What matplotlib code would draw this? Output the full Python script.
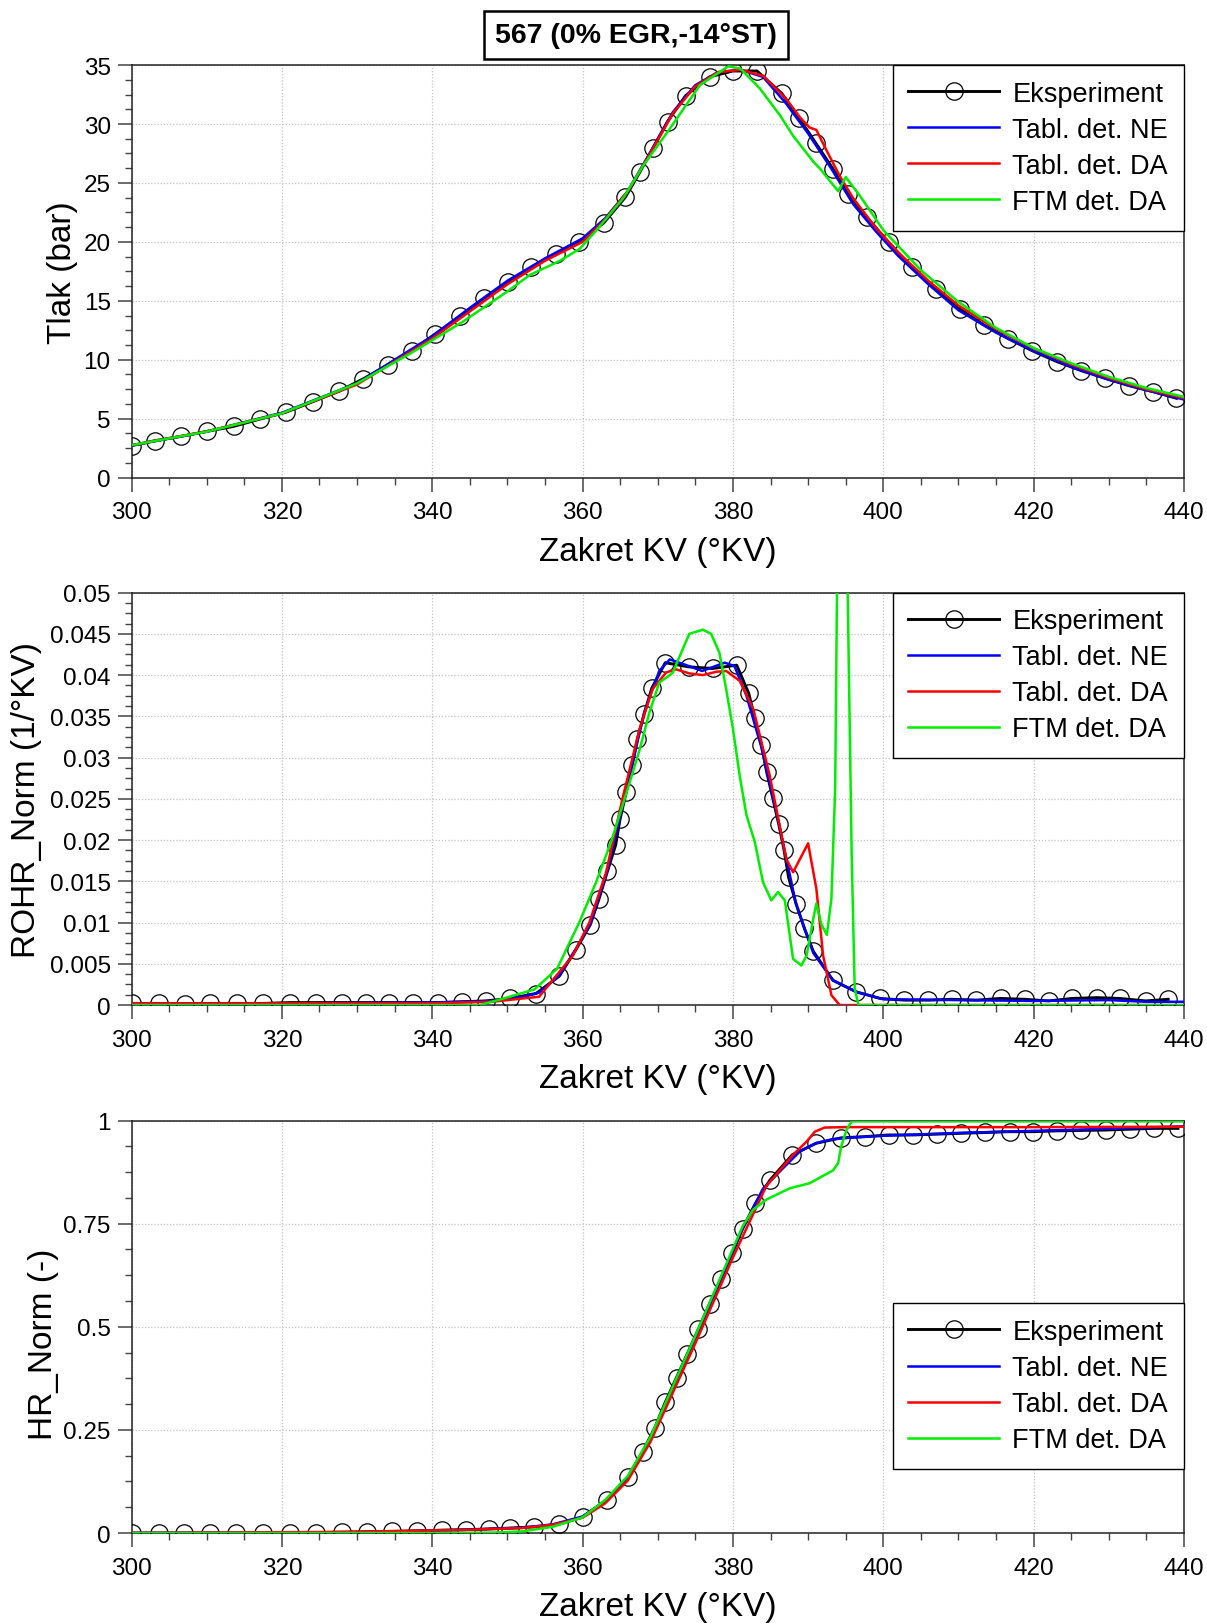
import matplotlib
matplotlib.use("Agg")
import matplotlib.pyplot as plt
from matplotlib.ticker import MultipleLocator, FuncFormatter

plt.rcParams['font.family'] = ['Liberation Sans', 'DejaVu Sans']

# ---------------- DATA ----------------
title = "567 (0% EGR,-14°ST)"
xlabel = "Zakret KV (°KV)"
ylabels = ["Tlak (bar)", "ROHR_Norm (1/°KV)", "HR_Norm (-)"]
series_names = ["Eksperiment", "Tabl. det. NE", "Tabl. det. DA", "FTM det. DA"]

# Panel 1 - pressure
p_exp_x = [300.0, 303.1, 306.6, 310.1, 313.6, 317.1, 320.5, 324.1, 327.6, 330.8, 334.1, 337.3,
           340.4, 343.7, 346.9, 350.1, 353.2, 356.5, 359.5, 362.8, 365.7, 367.6, 369.4, 371.3,
           373.7, 376.9, 380.0, 383.2, 386.5, 388.8, 391.0, 393.3, 395.3, 397.8, 400.7, 403.8,
           407.0, 410.2, 413.4, 416.6, 419.8, 423.1, 426.3, 429.5, 432.7, 435.9, 439.0]
p_exp_y = [2.71, 3.13, 3.5, 3.93, 4.35, 4.97, 5.54, 6.44, 7.33, 8.37, 9.56, 10.77,
           12.19, 13.69, 15.22, 16.63, 17.85, 18.98, 20.0, 21.6, 23.8, 25.9, 28.0, 30.2,
           32.4, 34.0, 34.5, 34.5, 32.6, 30.5, 28.4, 26.2, 24.1, 22.1, 19.97, 17.85,
           16.0, 14.3, 12.95, 11.8, 10.77, 9.84, 9.08, 8.43, 7.8, 7.29, 6.73]
p_ne_x = [300, 310, 320, 330, 340, 345, 350, 355, 360, 363, 366, 369, 372, 375, 378, 381, 384,
          387, 390, 393, 396, 399, 402, 406, 410, 415, 420, 425, 430, 435, 440]
p_ne_y = [2.72, 3.9, 5.5, 8.0, 12.0, 14.4, 16.7, 18.6, 20.3, 22.0, 24.3, 27.6, 31.0, 33.3, 34.4,
          34.6, 34.0, 31.8, 29.2, 26.3, 23.2, 20.9, 18.8, 16.4, 14.2, 12.3, 10.75, 9.4, 8.3, 7.42, 6.62]
p_da_x = [300, 310, 320, 330, 340, 345, 350, 355, 360, 363, 366, 369, 372, 375, 378, 381, 384,
          387, 389, 390.2, 391.1, 392.5, 394.2, 396, 399, 402, 406, 410, 415, 420, 425, 430, 435, 440]
p_da_y = [2.75, 3.92, 5.45, 7.9, 11.8, 14.1, 16.4, 18.4, 20.0, 21.9, 24.3, 27.5, 30.9, 33.2, 34.4,
          34.6, 34.1, 32.2, 30.5, 29.7, 29.5, 27.7, 25.6, 23.7, 21.2, 19.1, 16.7, 14.6, 12.6, 10.95,
          9.6, 8.45, 7.5, 6.75]
p_ftm_x = [300, 310, 320, 330, 337, 344, 350, 353, 357, 359.6, 362, 365.4, 368.1, 371.6, 375.6,
           379.4, 381, 383.6, 386.3, 388, 390.7, 391.6, 394, 395, 396.9, 400, 405, 410, 415, 420,
           425, 430, 435, 440]
p_ftm_y = [2.75, 3.9, 5.45, 8.0, 10.5, 13.2, 15.8, 17.2, 18.4, 19.4, 21.1, 23.7, 26.5, 29.6, 33.3,
           34.9, 34.7, 33.0, 30.7, 29.0, 26.8, 26.2, 24.3, 25.5, 23.9, 21.0, 17.6, 14.9, 12.7, 11.0,
           9.7, 8.55, 7.6, 6.85]

# Panel 2 - ROHR_Norm
r_exp_x = [300.0, 303.6, 307.1, 310.5, 314.0, 317.5, 321.1, 324.5, 328.0, 331.2, 334.3, 337.5,
           340.7, 343.9, 347.1, 350.3, 353.8, 356.9, 359.1, 361.0, 362.2, 363.3, 364.4, 365.0,
           365.8, 366.6, 367.3, 368.2, 369.2, 371.0, 374.1, 377.3, 380.5, 382.1, 382.9, 383.8,
           384.5, 385.3, 386.1, 386.8, 387.4, 388.4, 389.5, 390.7, 393.3, 396.4, 399.6, 402.8,
           406.0, 409.1, 412.4, 415.6, 418.8, 422.0, 425.1, 428.4, 431.5, 434.9, 437.9]
r_exp_y = [0.0002, 0.0002, 0.0001, 0.0002, 0.0002, 0.0002, 0.0003, 0.0003, 0.0003, 0.0003, 0.0003,
           0.0003, 0.0003, 0.0004, 0.0005, 0.0008, 0.0014, 0.0035, 0.0067, 0.0097, 0.0129, 0.0162,
           0.0194, 0.0226, 0.0258, 0.0291, 0.0323, 0.0353, 0.0384, 0.0415, 0.0410, 0.0408, 0.0412,
           0.0378, 0.0348, 0.0315, 0.0282, 0.0251, 0.0219, 0.0188, 0.0155, 0.0123, 0.0093, 0.0065,
           0.0030, 0.0016, 0.0008, 0.0006, 0.0006, 0.0007, 0.0006, 0.0008, 0.0007, 0.0005, 0.0008,
           0.0009, 0.0008, 0.0005, 0.0007]
r_ne_x = [300, 320, 340, 348, 352, 354.2, 356.9, 359.1, 361, 363.3, 365.8, 368.2, 370.2, 371.6,
          373.5, 375.9, 378.9, 380.2, 381.8, 383.8, 386, 388.4, 390.7, 393.3, 396.4, 400, 410, 420,
          430, 435, 440]
r_ne_y = [0.0002, 0.0002, 0.0003, 0.0005, 0.001, 0.0015, 0.0036, 0.0068, 0.0098, 0.0163, 0.0259,
          0.0355, 0.0405, 0.0419, 0.0413, 0.0405, 0.0415, 0.0411, 0.0375, 0.0312, 0.0225, 0.0122,
          0.0063, 0.0030, 0.0016, 0.0007, 0.0006, 0.0005, 0.0006, 0.0004, 0.0004]
r_da_x = [300, 320, 340, 348, 352, 354.2, 358.7, 360.9, 363.1, 365.3, 367.6, 369.3, 371.1, 372.4,
          374.2, 376.0, 377.8, 379.1, 380.9, 382.7, 384.9, 387.1, 388.0, 390.0, 391.1, 392.0, 393.1,
          394.2, 400, 440]
r_da_y = [0.0002, 0.0002, 0.0002, 0.0004, 0.0008, 0.001, 0.006, 0.010, 0.016, 0.025, 0.0335, 0.0383,
          0.0403, 0.0407, 0.0402, 0.0400, 0.0404, 0.0405, 0.0393, 0.0359, 0.0278, 0.0177, 0.0161,
          0.0196, 0.0141, 0.006, 0.0012, 0.0, 0.0, 0.0]
r_ftm_x = [300, 346.3, 349.9, 353.6, 356.6, 359.6, 361.8, 363.8, 366.0, 367.6, 368.9, 370.2, 371.6,
           372.0, 373.3, 374.2, 376.0, 377.1, 378.2, 379.1, 380.0, 380.9, 381.8, 382.9, 384.0, 385.1,
           386.0, 386.9, 388.0, 389.1, 389.8, 390.7, 391.1, 391.8, 392.5, 393.1, 393.6, 394.1, 394.6,
           395.1, 395.8, 396.2, 396.7, 440]
r_ftm_y = [0.0, 0.0, 0.0009, 0.0019, 0.0044, 0.0101, 0.0149, 0.0198, 0.0262, 0.031, 0.0355, 0.0391,
           0.0400, 0.0403, 0.0431, 0.0450, 0.0455, 0.0450, 0.0427, 0.0383, 0.0335, 0.0278, 0.0230,
           0.0198, 0.0149, 0.0127, 0.0137, 0.0127, 0.0056, 0.0048, 0.0060, 0.0105, 0.0123, 0.0097,
           0.0085, 0.0129, 0.0262, 0.075, 0.080, 0.060, 0.018, 0.002, 0.0, 0.0]

# Panel 3 - HR_Norm
h_exp_x = [300.0, 303.6, 307.0, 310.4, 313.9, 317.5, 321.1, 324.6, 328.0, 331.3, 334.7, 338.0,
           341.3, 344.5, 347.5, 350.4, 353.6, 356.8, 360.0, 363.2, 366.0, 368.0, 369.6, 371.0,
           372.5, 373.9, 375.4, 376.9, 378.4, 379.9, 381.3, 383.0, 384.9, 387.9, 391.1, 394.4,
           397.6, 400.7, 403.9, 407.1, 410.3, 413.6, 416.8, 419.9, 423.1, 426.3, 429.6, 432.8,
           436.0, 439.2]
h_exp_y = [0.0, 0.0, 0.0, 0.0, 0.0, 0.0, 0.001, 0.001, 0.002, 0.003, 0.004, 0.005,
           0.007, 0.008, 0.010, 0.012, 0.015, 0.021, 0.039, 0.080, 0.135, 0.197, 0.255, 0.317,
           0.377, 0.433, 0.494, 0.556, 0.617, 0.678, 0.738, 0.799, 0.855, 0.917, 0.945, 0.958,
           0.961, 0.965, 0.965, 0.967, 0.969, 0.971, 0.973, 0.973, 0.975, 0.976, 0.977, 0.979,
           0.981, 0.981]
h_ne_x = [300, 330, 345, 352, 356, 360, 363, 366, 369, 372, 375, 378, 381, 384, 386.7, 388.9, 391,
          393.3, 396, 400, 410, 420, 430, 440]
h_ne_y = [0.0, 0.002, 0.008, 0.013, 0.021, 0.040, 0.078, 0.133, 0.228, 0.35, 0.472, 0.598, 0.728,
          0.835, 0.885, 0.925, 0.945, 0.955, 0.959, 0.963, 0.970, 0.975, 0.980, 0.986]
h_da_x = [300, 330, 345, 352, 356, 360, 363, 366, 369, 372, 375, 378, 380, 384.4, 388.0, 389.8,
          390.9, 392.2, 395, 400, 420, 440]
h_da_y = [0.0, 0.003, 0.008, 0.012, 0.020, 0.037, 0.072, 0.127, 0.220, 0.340, 0.460, 0.585, 0.668,
          0.840, 0.917, 0.949, 0.973, 0.983, 0.984, 0.984, 0.984, 0.985]
h_ftm_x = [300, 340, 348, 352, 356, 360, 363, 366, 369, 372, 375, 378, 381.3, 382.7, 384.4, 387.6,
           390.2, 392.0, 393.3, 394.0, 394.4, 395.1, 395.8, 400, 440]
h_ftm_y = [0.0, 0.0, 0.001, 0.004, 0.015, 0.038, 0.080, 0.138, 0.232, 0.355, 0.478, 0.605, 0.744,
           0.784, 0.808, 0.836, 0.848, 0.866, 0.879, 0.897, 0.937, 0.977, 0.998, 0.998, 0.998]

x_range = (300, 440)
y_ranges = [(0, 35), (0, 0.05), (0, 1)]
y_major = [5, 0.005, 0.25]
y_minor = [1.25, 0.00125, 0.0625]

# ---------------- STYLE ----------------
colors = ["black", "#0000ff", "#ff0000", "#00ee00"]

fig = plt.figure(figsize=(12.07, 16.24), dpi=100)
left, width = 0.109, 0.8719
bottoms = [0.7053, 0.3805, 0.0554]
height = 0.2540

panels = [
    (p_exp_x, p_exp_y, p_ne_x, p_ne_y, p_da_x, p_da_y, p_ftm_x, p_ftm_y),
    (r_exp_x, r_exp_y, r_ne_x, r_ne_y, r_da_x, r_da_y, r_ftm_x, r_ftm_y),
    (h_exp_x, h_exp_y, h_ne_x, h_ne_y, h_da_x, h_da_y, h_ftm_x, h_ftm_y),
]
ylabel_x = [-0.066, -0.100, -0.084]
ylabel_y = [0.5, 0.5, 0.46]
legend_anchor = [(1.0, 1.0), (1.0, 1.0), (1.0, 0.557)]

def fmt(v, pos):
    s = f"{v:.4f}".rstrip("0").rstrip(".")
    return s if s != "-0" else "0"

for i, (data, b) in enumerate(zip(panels, bottoms)):
    ax = fig.add_axes([left, b, width, height])
    ex, ey, nx, ny, dx, dy, fx, fy = data
    ax.plot(ex, ey, color=colors[0], lw=2.1, marker='o', ms=12.5, mfc='none', mec='black',
            mew=0.9, label=series_names[0], zorder=3)
    ax.plot(nx, ny, color=colors[1], lw=1.8, label=series_names[1], zorder=4)
    ax.plot(dx, dy, color=colors[2], lw=1.8, label=series_names[2], zorder=5)
    ax.plot(fx, fy, color=colors[3], lw=1.8, label=series_names[3], zorder=6)

    ax.set_xlim(*x_range)
    ax.set_ylim(*y_ranges[i])
    ax.xaxis.set_major_locator(MultipleLocator(20))
    ax.xaxis.set_minor_locator(MultipleLocator(5))
    ax.yaxis.set_major_locator(MultipleLocator(y_major[i]))
    ax.yaxis.set_minor_locator(MultipleLocator(y_minor[i]))
    ax.yaxis.set_major_formatter(FuncFormatter(fmt))
    ax.tick_params(which='major', direction='out', length=10, width=1.1, color='#444444',
                   labelsize=17.5, pad=5)
    ax.tick_params(which='minor', direction='out', length=5, width=1.0, color='#444444')
    ax.tick_params(axis='x', which='major', pad=7)
    ax.grid(True, which='major', color='#c4c4c4', linestyle=(0, (1, 1.5)), linewidth=0.9)
    ax.set_axisbelow(True)
    for sp in ax.spines.values():
        sp.set_linewidth(1.1)
        sp.set_color('#222222')

    ax.set_xlabel(xlabel, fontsize=24, labelpad=9)
    ax.set_ylabel(ylabels[i], fontsize=24, va='center')
    ax.yaxis.set_label_coords(ylabel_x[i], ylabel_y[i])

    leg = ax.legend(loc='upper right', bbox_to_anchor=legend_anchor[i], borderaxespad=0,
                    fontsize=19.5, fancybox=False, framealpha=1, edgecolor='black',
                    handlelength=3.35, handletextpad=0.5, labelspacing=0.37, borderpad=0.58,
                    numpoints=1)
    leg.get_frame().set_linewidth(1.0)
    leg.set_zorder(10)

fig.text(0.527, 0.9777, title, ha='center', va='center', fontsize=20.5, fontweight='bold',
         bbox=dict(boxstyle='square,pad=0.38', facecolor='white', edgecolor='black', linewidth=1.8))

fig.savefig("out.png", dpi=100)
